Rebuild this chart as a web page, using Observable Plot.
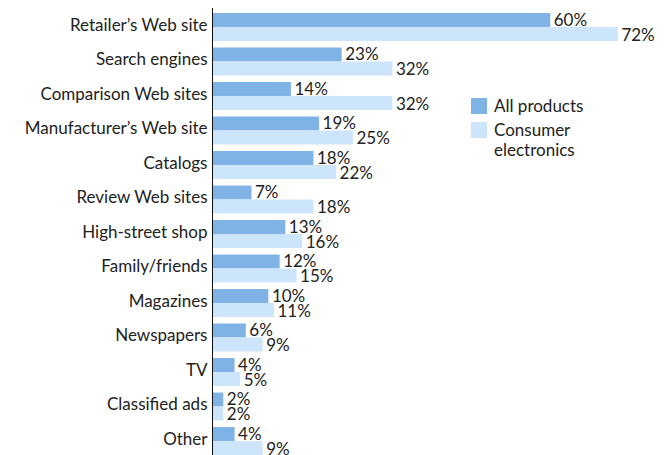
<!DOCTYPE html>
<html>
<head>
<meta charset="utf-8">
<script src="https://cdn.jsdelivr.net/npm/d3@7"></script>
<script src="https://cdn.jsdelivr.net/npm/@observablehq/plot@0.6"></script>
<style>
  html, body { margin: 0; padding: 0; background: #fff; overflow: hidden; }
  #wrap { position: relative; width: 668px; height: 455px; overflow: hidden; font-family: Lato, sans-serif; }
  #legend { position: absolute; left: 471px; top: 96px; font-size: 17px; color: #222; line-height: 20px; }
  .item { display: flex; align-items: flex-start; margin-bottom: 4px; }
  .sw { width: 16px; height: 16px; margin-right: 7px; margin-top: 2px; flex: none; }
</style>
</head>
<body>
<div id="wrap"><div id="legend"></div></div>
<script>
const categories = ["Retailer’s Web site", "Search engines", "Comparison Web sites", "Manufacturer’s Web site", "Catalogs", "Review Web sites", "High-street shop", "Family/friends", "Magazines", "Newspapers", "TV", "Classified ads", "Other"];
const allProducts = [60, 23, 14, 19, 18, 7, 13, 12, 10, 6, 4, 2, 4];
const consumerElectronics = [72, 32, 32, 25, 22, 18, 16, 15, 11, 9, 5, 2, 9];
const seriesNames = ["All products", "Consumer\nelectronics"];
const colors = ["#7fb3e6", "#cce5fb"];

const dataA = categories.map((c, i) => ({category: c, value: allProducts[i]}));
const dataC = categories.map((c, i) => ({category: c, value: consumerElectronics[i]}));

const chart = Plot.plot({
  width: 668,
  height: 460,
  marginLeft: 212,
  marginRight: 5,
  marginTop: 8,
  marginBottom: 0,
  style: {fontFamily: "Lato, sans-serif", fontSize: "17px", color: "#222"},
  x: {domain: [0, 80], axis: null},
  y: {domain: categories, paddingInner: 0.19, paddingOuter: 0.145, round: false, label: null, axis: null},
  marks: [
    Plot.barX(dataA, {y: "category", x: "value", fill: colors[0], insetBottom: 14}),
    Plot.barX(dataC, {y: "category", x: "value", fill: colors[1], insetTop: 14}),
    Plot.text(dataA, {y: "category", x: "value", text: d => d.value + "%", textAnchor: "start", dx: 3, dy: -7, fill: "#222", fontSize: 17}),
    Plot.text(dataC, {y: "category", x: "value", text: d => d.value + "%", textAnchor: "start", dx: 3, dy: 8, fill: "#222", fontSize: 17}),
    Plot.axisY({tickSize: 0, tickPadding: 5, dy: -2, fontSize: 17, fill: "#222", label: null}),
    Plot.ruleX([0], {stroke: "#111", strokeWidth: 1})
  ]
});
document.getElementById("wrap").prepend(chart);

const legend = document.getElementById("legend");
seriesNames.forEach((name, i) => {
  const item = document.createElement("div");
  item.className = "item";
  const sw = document.createElement("div");
  sw.className = "sw";
  sw.style.background = colors[i];
  const label = document.createElement("div");
  label.innerHTML = name.replace("\n", "<br>");
  item.appendChild(sw);
  item.appendChild(label);
  legend.appendChild(item);
});
</script>
</body>
</html>
